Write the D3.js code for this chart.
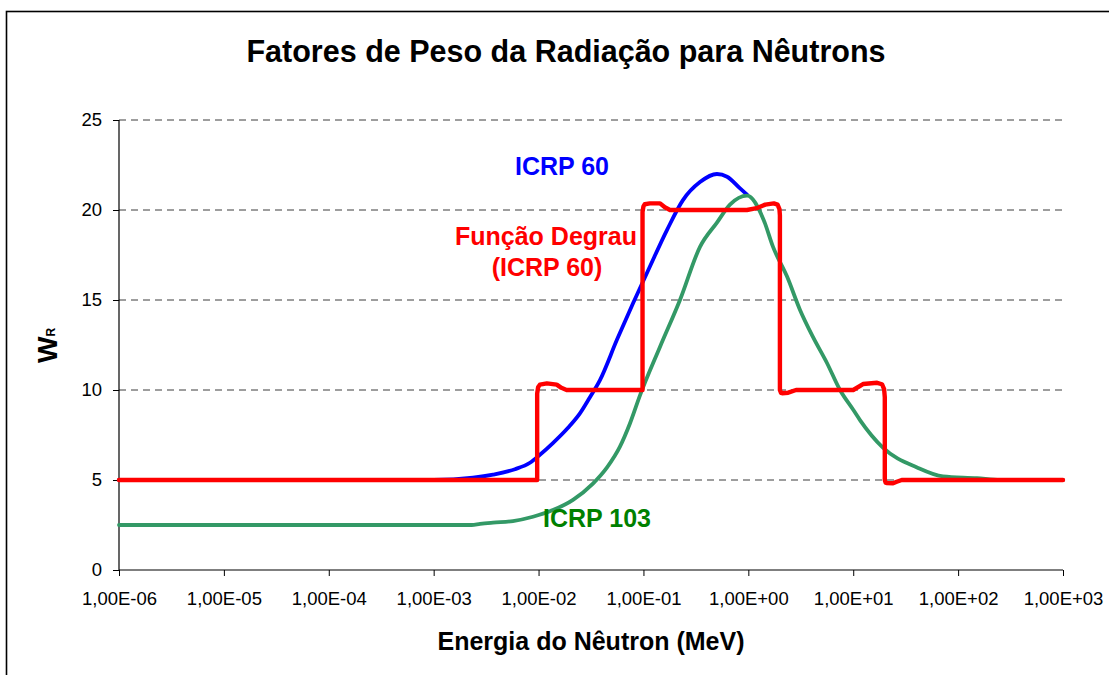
<!DOCTYPE html>
<html>
<head>
<meta charset="utf-8">
<script src="https://cdn.jsdelivr.net/npm/d3@7"></script>
<style>
  body { margin: 0; background: #fff; }
  svg { display: block; font-family: "Liberation Sans", Arial, sans-serif; }
</style>
</head>
<body>
<svg id="chart" width="1109" height="675"></svg>
<script>
// tick values / labels
const xTickValues = [1e-6, 1e-5, 1e-4, 1e-3, 1e-2, 1e-1, 1e0, 1e1, 1e2, 1e3];
const xTickLabels = ['1,00E-06', '1,00E-05', '1,00E-04', '1,00E-03', '1,00E-02',
  '1,00E-01', '1,00E+00', '1,00E+01', '1,00E+02', '1,00E+03'];
const yTickValues = [0, 5, 10, 15, 20, 25];

// [energia (MeV), W_R]
const icrp60 = [
  [1e-6, 5], [1e-3, 5.0], [2.37e-3, 5.13], [3.68e-3, 5.3], [5.96e-3, 5.6],
  [8.28e-3, 5.96], [1.03e-2, 6.4], [1.37e-2, 7.05], [1.91e-2, 7.9],
  [2.48e-2, 8.7], [3.09e-2, 9.6], [3.85e-2, 10.55], [5.6e-2, 12.8],
  [7.94e-2, 14.8], [0.115, 16.85], [0.168, 18.9], [0.238, 20.55],
  [0.346, 21.55], [0.502, 22.0], [0.627, 21.85], [0.834, 21.2], [0.973, 20.85]
];

const icrp103 = [
  [1e-6, 2.5], [2.3e-3, 2.5], [2.77e-3, 2.56], [3.68e-3, 2.63], [5.7e-3, 2.72],
  [8.85e-3, 2.96], [1.37e-2, 3.33], [2.13e-2, 3.9], [3.3e-2, 4.8],
  [4.5e-2, 5.7], [5.97e-2, 6.85], [7.45e-2, 8.15], [9.27e-2, 9.7],
  [0.144, 12.4], [0.223, 15.0], [0.346, 17.95], [0.502, 19.3], [0.668, 20.3],
  [0.973, 20.8], [1.40, 19.45], [1.72, 17.95], [2.34, 16.3], [3.11, 14.45],
  [4.13, 12.95], [5.62, 11.5], [7.48, 10.0], [10, 8.9], [11.6, 8.33],
  [19.2, 6.8], [40.6, 5.7], [71.8, 5.2], [151, 5.1], [251, 5.0], [1000, 5.0]
];

// step function, with the little bumps of the smoothed line
const degrau = [
  [1e-6, 5], [0.0097, 5], [0.0097, 9.8], [0.0099, 10.15], [0.0103, 10.3],
  [0.012, 10.37], [0.0149, 10.3], [0.0165, 10.12], [0.0185, 10.0],
  [0.098, 10.0], [0.098, 19.9], [0.1, 20.2], [0.103, 20.32], [0.115, 20.37],
  [0.144, 20.37], [0.16, 20.15], [0.179, 20.0], [0.97, 20.0],
  [1.2, 20.1], [1.45, 20.3], [1.75, 20.37], [1.9, 20.3], [1.98, 20.05],
  [2.0, 19.7], [2.0, 10.0], [2.05, 9.84], [2.1, 9.82], [2.4, 9.85],
  [2.85, 10.0], [10.0, 10.0], [12.4, 10.33], [16.9, 10.4], [18.8, 10.32],
  [19.7, 10.05], [20, 9.6], [20, 5.0], [20.4, 4.85], [20.8, 4.83],
  [24, 4.82], [26, 4.9], [29, 5.0], [1000, 5]
];

const svg = d3.select('#chart');
const margin = { left: 119, right: 1063, top: 120, bottom: 570 };

const x = d3.scaleLog().domain([1e-6, 1e3]).range([margin.left, margin.right]);
const y = d3.scaleLinear().domain([0, 25]).range([margin.bottom, margin.top]);

// outer frame (runs off the right / bottom edge)
svg.append('rect')
  .attr('x', 6.5).attr('y', 11.5)
  .attr('width', 1300).attr('height', 900)
  .attr('fill', 'none')
  .attr('stroke', '#000')
  .attr('stroke-width', 1.6);

// grid
svg.append('g')
  .attr('class', 'grid')
  .selectAll('line')
  .data(yTickValues.filter(d => d > 0))
  .enter().append('line')
  .attr('x1', margin.left).attr('x2', margin.right)
  .attr('y1', d => y(d)).attr('y2', d => y(d))
  .attr('stroke', '#3c3c3c')
  .attr('stroke-width', 1)
  .attr('stroke-dasharray', '7,5');

// axes
const xAxis = svg.append('g')
  .attr('transform', `translate(0,${margin.bottom})`)
  .call(d3.axisBottom(x)
    .tickValues(xTickValues)
    .tickFormat((d, i) => xTickLabels[i])
    .tickSize(6)
    .tickPadding(16));

const yAxis = svg.append('g')
  .attr('transform', `translate(${margin.left},0)`)
  .call(d3.axisLeft(y)
    .tickValues(yTickValues)
    .tickSize(6)
    .tickPadding(11));

[xAxis, yAxis].forEach(g => {
  g.select('.domain').attr('stroke', '#000').attr('stroke-width', 1.2);
  g.selectAll('.tick line').attr('stroke', '#000');
  g.selectAll('.tick text')
    .attr('fill', '#000')
    .style('font-size', '18.5px')
    .style('font-family', '"Liberation Sans", Arial, sans-serif');
});
yAxis.select('.domain').attr('d', `M0,${margin.bottom}V${margin.top}`);
xAxis.select('.domain').attr('d', `M${margin.left},0H${margin.right}`);

// series
const line = d3.line()
  .x(d => x(d[0]))
  .y(d => y(d[1]));

const series = [
  { data: icrp60, color: '#0000ff', width: 3.8, curve: d3.curveMonotoneX },
  { data: icrp103, color: '#339966', width: 3.8, curve: d3.curveMonotoneX },
  { data: degrau, color: '#ff0000', width: 4.4, curve: d3.curveLinear }
];

svg.append('g')
  .attr('class', 'series')
  .selectAll('path')
  .data(series)
  .enter().append('path')
  .attr('d', d => line.curve(d.curve)(d.data))
  .attr('fill', 'none')
  .attr('stroke', d => d.color)
  .attr('stroke-width', d => d.width)
  .attr('stroke-linejoin', 'round')
  .attr('stroke-linecap', 'round');

// labels
const labels = [
  { text: 'ICRP 60', x: 562, y: 175, color: '#0000ff' },
  { text: 'Função Degrau', x: 546, y: 245, color: '#ff0000' },
  { text: '(ICRP 60)', x: 547, y: 276, color: '#ff0000' },
  { text: 'ICRP 103', x: 597, y: 527, color: '#008000' }
];

svg.append('g')
  .selectAll('text')
  .data(labels)
  .enter().append('text')
  .attr('x', d => d.x)
  .attr('y', d => d.y)
  .attr('text-anchor', 'middle')
  .attr('fill', d => d.color)
  .style('font-size', '25px')
  .style('font-weight', 'bold')
  .text(d => d.text);

// title and axis titles
svg.append('text')
  .attr('x', 566).attr('y', 62)
  .attr('text-anchor', 'middle')
  .style('font-size', '30.5px')
  .style('font-weight', 'bold')
  .text('Fatores de Peso da Radiação para Nêutrons');

svg.append('text')
  .attr('x', 591).attr('y', 650)
  .attr('text-anchor', 'middle')
  .style('font-size', '25px')
  .style('font-weight', 'bold')
  .text('Energia do Nêutron (MeV)');

const yTitle = svg.append('text')
  .attr('transform', 'translate(57,363) rotate(-90)')
  .style('font-weight', 'bold');
yTitle.append('tspan').style('font-size', '28px').text('W');
yTitle.append('tspan').attr('dy', -2).style('font-size', '12px').text('R');
</script>
</body>
</html>
